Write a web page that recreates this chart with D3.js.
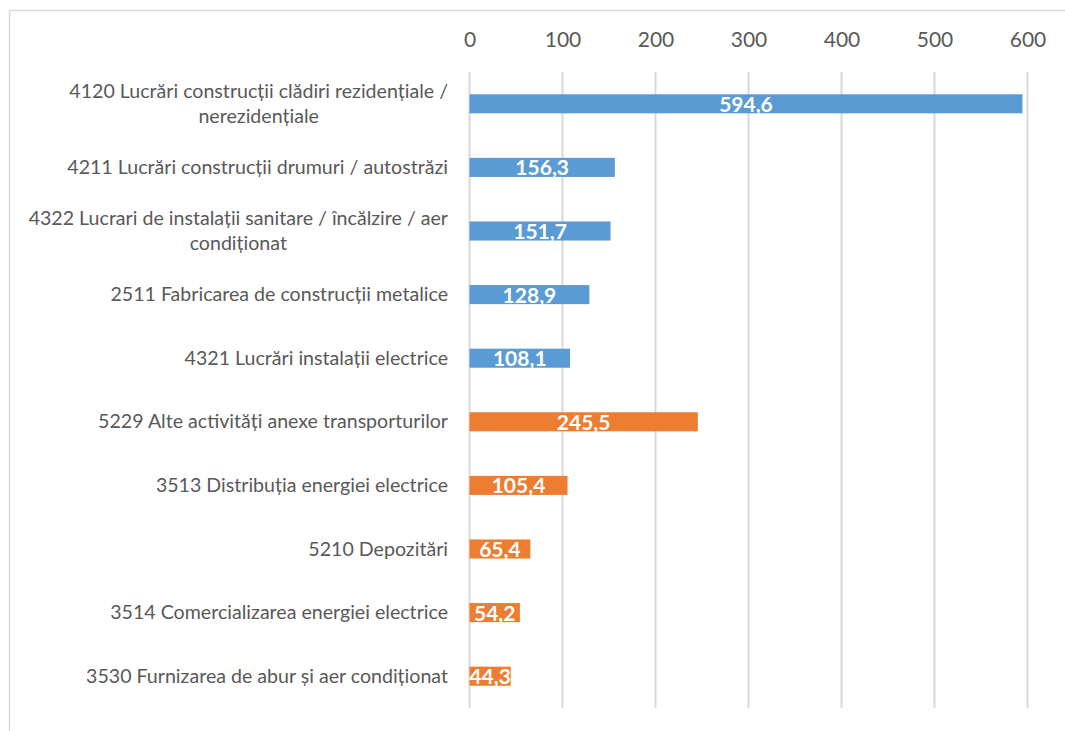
<!DOCTYPE html>
<html>
<head>
<meta charset="utf-8">
<script src="https://cdn.jsdelivr.net/npm/d3@7"></script>
<style>
  body { margin: 0; background: #fff; }
  text { font-family: Lato, "Open Sans", sans-serif; }
</style>
</head>
<body>
<svg id="chart" width="1065" height="731"></svg>
<script>
// categories (each entry is the lines of the label)
var categories = [
  ["4120 Lucrări construcții clădiri rezidențiale /", "nerezidențiale"],
  ["4211 Lucrări construcții drumuri / autostrăzi"],
  ["4322 Lucrari de instalații sanitare / încălzire / aer", "condiționat"],
  ["2511 Fabricarea de construcții metalice"],
  ["4321 Lucrări instalații electrice"],
  ["5229 Alte activități anexe transporturilor"],
  ["3513 Distribuția energiei electrice"],
  ["5210 Depozitări"],
  ["3514 Comercializarea energiei electrice"],
  ["3530 Furnizarea de abur și aer condiționat"]
];
var values = [594.6, 156.3, 151.7, 128.9, 108.1, 245.5, 105.4, 65.4, 54.2, 44.3];
var groups = ["blue", "blue", "blue", "blue", "blue", "orange", "orange", "orange", "orange", "orange"];
var tickValues = [0, 100, 200, 300, 400, 500, 600];

var colors = {blue: "#5B9BD5", orange: "#ED7D31"};

var svg = d3.select("#chart");

// outer chart border (right and bottom edge lie outside the picture)
svg.append("rect")
    .attr("x", 9.5).attr("y", 10.5)
    .attr("width", 1100).attr("height", 800)
    .style("fill", "none")
    .style("stroke", "#d9d9d9")
    .style("stroke-width", 1.5);

var x = d3.scaleLinear().domain([0, 600]).range([469.5, 1027.5]);
var y = d3.scaleBand().domain(d3.range(categories.length)).range([72, 708]).paddingInner(0.7).paddingOuter(0.35);

// gridlines
svg.append("g")
    .attr("class", "grid")
    .selectAll("line")
    .data(tickValues)
    .join("line")
    .attr("x1", function(d) { return x(d); })
    .attr("x2", function(d) { return x(d); })
    .attr("y1", 72)
    .attr("y2", 708)
    .style("stroke", "#d9d9d9")
    .style("stroke-width", 2);

// top axis labels
var xAxis = svg.append("g")
    .attr("transform", "translate(0,47)")
    .call(d3.axisTop(x).tickValues(tickValues).tickSize(0).tickPadding(0));
xAxis.select(".domain").remove();
xAxis.selectAll("text")
    .attr("y", 0)
    .attr("dy", 0)
    .style("font-family", "Lato, sans-serif")
    .style("font-size", "21px")
    .style("fill", "#595959");

// bars
svg.append("g")
    .selectAll("rect")
    .data(values)
    .join("rect")
    .attr("x", x(0))
    .attr("y", function(d, i) { return y(i); })
    .attr("width", function(d) { return x(d) - x(0); })
    .attr("height", y.bandwidth())
    .style("fill", function(d, i) { return colors[groups[i]]; });

// value labels
svg.append("g")
    .selectAll("text")
    .data(values)
    .join("text")
    .attr("x", function(d) { return (x(0) + x(d)) / 2; })
    .attr("y", function(d, i) { return y(i) + y.bandwidth() / 2 + 8; })
    .attr("text-anchor", "middle")
    .style("font-size", "21px")
    .style("font-weight", "bold")
    .style("fill", "#ffffff")
    .text(function(d) { return d.toFixed(1).replace(".", ","); });

// category labels: block right aligned, lines centered in the block
var labelRight = 448;
var lineHeight = 25;
var labels = svg.append("g");
categories.forEach(function(lines, i) {
    var cy = y(i) + y.bandwidth() / 2;
    var t = labels.append("text")
        .style("font-size", "19.6px")
        .style("fill", "#595959")
        .attr("text-anchor", "middle");
    var spans = lines.map(function(line, k) {
        return t.append("tspan")
            .attr("y", cy + 6.5 + (k - (lines.length - 1) / 2) * lineHeight)
            .text(line);
    });
    var w = d3.max(spans, function(s) { return s.node().getComputedTextLength(); });
    spans.forEach(function(s) { s.attr("x", labelRight - w / 2); });
});
</script>
</body>
</html>
